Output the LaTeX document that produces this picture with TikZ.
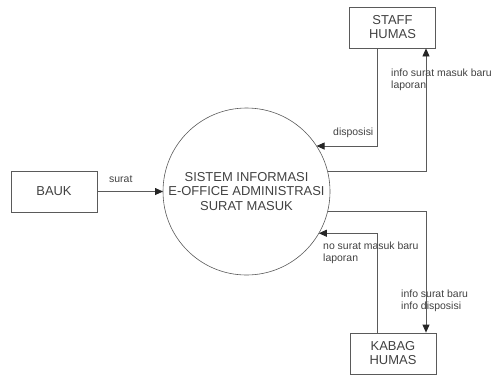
\documentclass[tikz,border=0pt]{standalone}
\usepackage{fontspec}
\setmainfont{Liberation Sans}
\usetikzlibrary{arrows.meta}
\definecolor{linegray}{RGB}{90,90,90}
\definecolor{textgray}{RGB}{65,65,65}
\tikzset{
  entity/.style={draw=linegray, line width=0.8bp, minimum width=86bp, minimum height=41bp,
    inner sep=0pt, align=center, text=textgray, font=\fontsize{13}{14}\selectfont},
  process/.style={circle, draw=linegray, line width=0.6bp, minimum size=167bp, inner sep=0pt,
    outer sep=0pt, align=center, text=textgray, font=\fontsize{13}{15}\selectfont},
  flow/.style={draw=linegray, line width=0.8bp, -{Triangle[length=8bp,width=7bp,color=black!85]}},
  flowlabel/.style={anchor=base west, inner sep=0pt, align=left, text=textgray,
    font=\fontsize{10.5}{11.5}\selectfont}
}
\begin{document}
\begin{tikzpicture}[x=1bp,y=-1bp]
  \useasboundingbox (0,0) rectangle (492,375);
  % entities and process
  \node[process] (sys) at (246.5,191.5) {SISTEM INFORMASI\\E-OFFICE ADMINISTRASI\\SURAT MASUK};
  \node[entity] (bauk) at (54,191.5) {BAUK};
  \node[entity] (staff) at (392.5,27.5) {STAFF\\HUMAS};
  \node[entity] (kabag) at (393,353.5) {KABAG\\HUMAS};
  % data flows
  \draw[flow] (bauk.east |- sys.west) -- (sys.west);
  \draw[flow] (staff.south -| 377,0) |- (sys.33.8);
  \draw[flow] (sys.14.9) -| (staff.south -| 426,0);
  \draw[flow] (sys.-14.2) -| (kabag.north -| 426,0);
  \draw[flow] (kabag.north -| 377,0) |- (sys.-30.6);
  % labels (base = last line)
  \node[flowlabel] (lsurat) at (109,182) {surat};
  \node[flowlabel] (ldisp) at (333,135) {disposisi};
  \node[flowlabel] (linfo) at (391,88) {info surat masuk baru\\laporan};
  \node[flowlabel] (lno) at (323,261) {no surat masuk baru\\laporan};
  \node[flowlabel] (linfodisp) at (401,309) {info surat baru\\info disposisi};
\end{tikzpicture}
\end{document}
